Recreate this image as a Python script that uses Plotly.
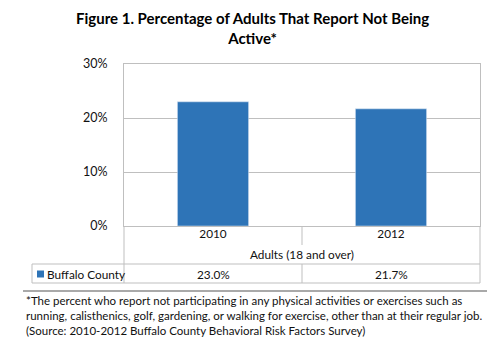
import plotly.graph_objects as go

categories = ["2010", "2012"]
values = [23.0, 21.7]
series_name = "Buffalo County"
axis_title = "Adults (18 and over)"
title_lines = ["Figure 1. Percentage of Adults That Report Not Being", "Active*"]
footnote_lines = [
    "*The percent who report not participating in any physical activities or exercises such as",
    "running, calisthenics, golf, gardening, or walking for exercise, other than at their regular job.",
    "(Source: 2010-2012 Buffalo County Behavioral Risk Factors Survey)",
]

W, H = 500, 345
L, R, T, B = 124, 480, 64, 226
BAR = "#2e74b7"
GRID = "#bfbfbf"
FONT = "Lato"
TXT = "#111111"

def px(x):
    return (x - L) / (R - L)

def py(y):
    return (B - y) / (B - T)

fig = go.Figure()
fig.add_trace(go.Bar(x=categories, y=values, marker_color=BAR, width=0.4, name=series_name))

shapes = []
def line(x0, y0, x1, y1, color=GRID, w=1):
    shapes.append(dict(type="line", xref="paper", yref="paper", x0=px(x0), y0=py(y0),
                       x1=px(x1), y1=py(y1), line=dict(color=color, width=w)))

# data table lines
line(L, B, L, 283)
line(R, B, R, 283)
line(302, B, 302, 245)
line(302, 264, 302, 283)
line(32, 264, R, 264)
line(32, 283, R, 283)
line(32, 264, 32, 283)
# separator
line(23, 291, 487, 291, color="#555555", w=1.2)
# legend key
shapes.append(dict(type="rect", xref="paper", yref="paper", x0=px(37), x1=px(44),
                   y0=py(277.5), y1=py(270.5), fillcolor=BAR, line=dict(width=0)))

def ann(text, x, y, size, anchor="center", color=TXT):
    annotations.append(dict(text=text, x=x, y=py(y), xref="paper", yref="paper",
                            xanchor=anchor, yanchor="middle", showarrow=False,
                            font=dict(family=FONT, size=size, color=color)))

annotations = []
ann(axis_title, 0.5, 255, 11.8)
ann(series_name, px(45), 274, 11.8, anchor="left")
n = len(categories)
for i, v in enumerate(values):
    ann(f"{v:.1f}%", (i + 0.5) / n, 274, 11.8)
for i, t in enumerate(footnote_lines):
    ann(t, px(24), 300 + 15 * i, 11.5, anchor="left")
ann("<b>" + "<br>".join(title_lines) + "</b>", px(252), 28, 15, color="#000000")

fig.update_layout(
    width=W, height=H,
    margin=dict(l=L, r=W - R, t=T, b=H - B),
    paper_bgcolor="white", plot_bgcolor="white",
    showlegend=False,
    shapes=shapes, annotations=annotations,
    font=dict(family=FONT, size=12, color=TXT),
    xaxis=dict(type="category", showline=True, linecolor=GRID, mirror=True,
               ticklabelstandoff=-3,
               tickfont=dict(family=FONT, size=11.8, color=TXT)),
    yaxis=dict(range=[0, 30], dtick=10, ticksuffix="%", showgrid=True, gridcolor=GRID,
               showline=True, linecolor=GRID, mirror=True, zeroline=False,
               ticks="outside", ticklen=13, tickcolor="rgba(0,0,0,0)",
               tickfont=dict(family=FONT, size=12.5, color=TXT)),
)

fig.write_html("out.html")
